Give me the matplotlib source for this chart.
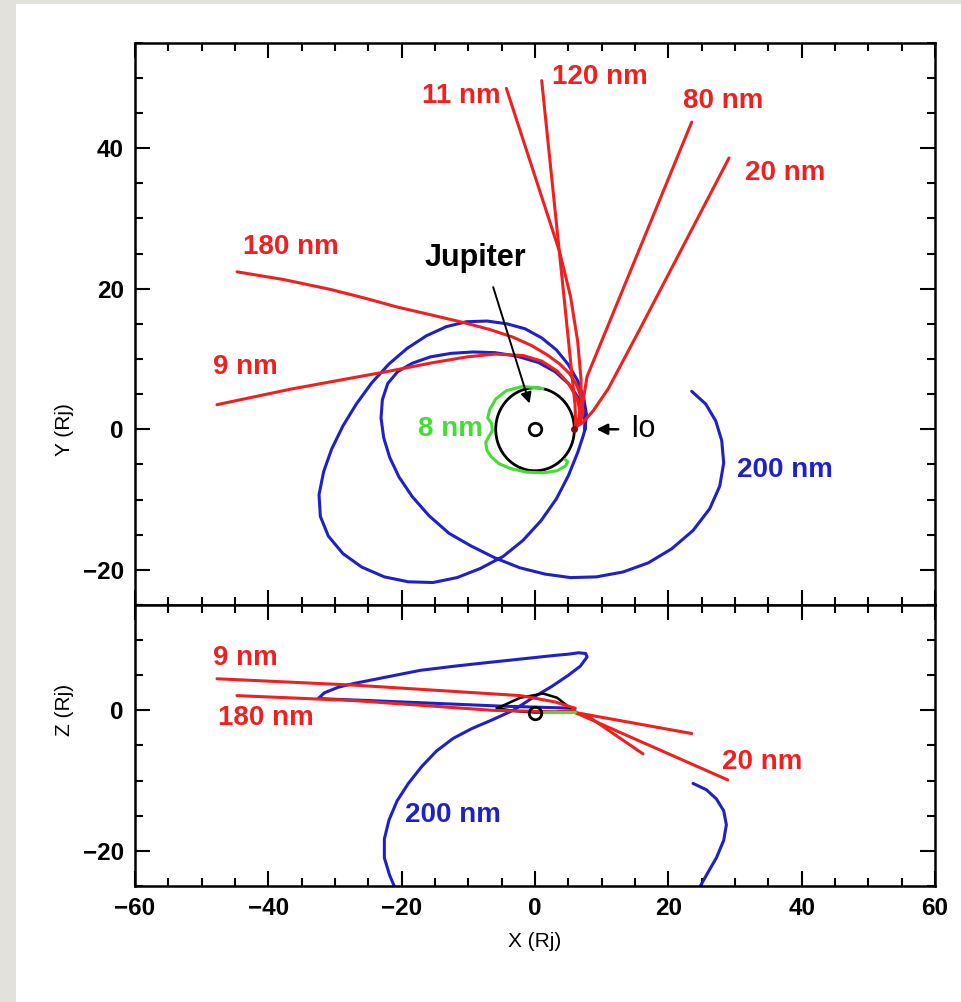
import numpy as np
import matplotlib
matplotlib.use('Agg')
import matplotlib.pyplot as plt
from matplotlib.patches import Circle, Rectangle
from matplotlib.ticker import MultipleLocator

plt.rcParams['font.family'] = ['Liberation Sans', 'DejaVu Sans']

RED = '#ee2020'
BLUE = '#2020c8'
GREEN = '#44dd33'

# ---- X-Y plane (top panel), values in Rj ----
red_11nm_x = [-4.3, 3.7, 5.3, 6.4, 6.9, 6.9, 6.5, 6.1]
red_11nm_y = [48.5, 25.2, 19.0, 12.5, 7.1, 3.5, 1.3, 0.3]
red_120nm_x = [1.0, 4.5, 5.5, 6.0, 6.1]
red_120nm_y = [49.6, 17.4, 8.1, 3.5, 0.3]
red_80nm_x = [23.5, 7.8, 7.2, 6.8, 6.1]
red_80nm_y = [43.7, 7.5, 4.0, 1.8, 0.3]
red_20nm_x = [29.1, 15.7, 11.0, 8.7, 7.2, 6.1]
red_20nm_y = [38.6, 14.2, 5.8, 2.6, 1.0, 0.3]
red_180nm_x = [-44.7, -37.7, -30.7, -25.7, -20.7, -15.7, -10.8, -6.8, -3.3, -0.5, 1.8,
               3.7, 5.2, 6.3, 7.0, 7.2, 6.8, 6.1]
red_180nm_y = [22.4, 21.3, 19.9, 18.7, 17.4, 16.3, 15.2, 14.2, 13.1, 11.9, 10.6,
               9.3, 7.9, 6.2, 4.3, 2.4, 1.0, 0.3]
red_9nm_x = [-47.7, -42.2, -36.7, -29.2, -21.7, -15.2, -10.2, -6.0, -1.8, 1.0, 3.3,
             5.1, 6.3, 6.8, 6.5, 6.1]
red_9nm_y = [3.5, 4.6, 5.7, 7.0, 8.3, 9.5, 10.3, 10.7, 10.5, 9.7, 8.3,
             6.4, 4.4, 2.3, 0.9, 0.3]

# outer loop then inner loop of the 200 nm grain
blue_200nm_x = [7.5, 7.7, 7.3, 6.4, 5.0, 3.2, 1.0, -1.5, -4.2, -7.2, -10.3, -13.3, -16.3,
                -19.2, -21.9, -24.5, -26.8, -28.8, -30.5, -31.7, -32.4, -32.2, -31.0,
                -28.8, -26.0, -22.6, -19.0, -15.3, -11.7, -8.2, -4.8, -1.8, 0.9, 3.2,
                5.0, 6.4, 7.2, 7.5,
                7.4, 6.5, 5.0, 3.0, 0.5, -2.7, -6.0, -9.3, -12.6, -15.7, -18.4, -20.6,
                -22.1, -22.9, -23.1, -22.7, -21.8, -20.4, -18.4, -15.9, -12.9, -9.6,
                -6.0, -2.3, 1.5, 5.3, 9.2, 13.2, 17.0, 20.5, 23.7, 26.2, 27.7, 28.3,
                28.0, 27.1, 25.6, 23.5]
blue_200nm_y = [0.0, 2.2, 4.5, 6.9, 9.2, 11.3, 13.0, 14.3, 15.0, 15.4, 15.3, 14.6, 13.3,
                11.5, 9.3, 6.6, 3.6, 0.5, -2.8, -6.0, -9.3, -12.4, -15.2,
                -17.7, -19.6, -21.0, -21.7, -21.8, -21.1, -19.8, -18.1, -15.8, -13.0, -9.9,
                -6.6, -3.3, -1.0, 0.0,
                2.3, 4.5, 6.5, 8.2, 9.5, 10.4, 10.9, 11.0, 10.8, 10.3, 9.4, 8.2,
                6.5, 4.2, 1.6, -1.2, -4.0, -6.8, -9.6, -12.3, -14.8, -16.6,
                -18.3, -19.7, -20.6, -21.1, -21.0, -20.3, -19.0, -17.0, -14.4, -11.3, -8.1, -4.8,
                -1.6, 1.2, 3.6, 5.4]

green_8nm_x = [1.2, -1.8, -4.3, -5.9, -6.8, -7.1, -6.5, -6.4, -6.9, -7.4, -7.2, -6.6,
               -5.4, -3.6, -1.3, 1.2, 3.3, 4.6, 4.9, 4.5]
green_8nm_y = [5.8, 6.1, 5.5, 4.3, 2.8, 1.6, 0.8, -0.2, -1.0, -1.9, -3.0, -3.9,
               -4.9, -5.6, -6.1, -6.2, -5.9, -5.2, -4.6, -4.3]

io_orbit_radius = 5.9
io_position = (5.9, 0.0)

# ---- X-Z plane (bottom panel) ----
red_xz_9nm_x = [-47.7, -27.3, -2.2, 3.0, 6.0]
red_xz_9nm_z = [4.5, 3.6, 2.1, 1.2, 0.3]
red_xz_180nm_x = [-44.7, -27.3, -6.3, 3.0, 6.0]
red_xz_180nm_z = [2.1, 1.4, 0.0, -0.2, 0.0]
red_xz_80nm_x = [6.0, 23.5]
red_xz_80nm_z = [-0.3, -3.3]
red_xz_11nm_x = [6.0, 8.2, 16.2]
red_xz_11nm_z = [-0.3, -1.0, -6.2]
red_xz_20nm_x = [6.0, 11.7, 28.9]
red_xz_20nm_z = [-0.3, -2.7, -9.9]

blue_xz_a_x = [6.0, -5.0, -15.0, -25.0, -30.5, -32.5, -31.6, -29.5, -27.3, -22.0, -17.2,
               -12.0, -7.2, -2.2, 2.7, 5.0, 6.5, 7.6, 7.8, 6.8, 5.0, 2.5, 0.0, -3.3,
               -6.3, -9.5, -12.3, -14.8, -17.0, -19.0, -20.7, -21.9, -22.6, -22.6,
               -21.8, -20.9]
blue_xz_a_z = [0.3, 0.6, 1.0, 1.4, 1.6, 1.7, 2.5, 3.3, 3.8, 4.8, 5.7,
               6.3, 6.8, 7.3, 7.8, 8.0, 8.2, 8.1, 7.6, 6.3, 5.0, 3.4, 2.0, 0.0,
               -1.3, -2.6, -4.0, -5.8, -8.0, -10.4, -12.9, -15.6, -18.3, -21.0,
               -23.5, -25.5]
blue_xz_b_x = [24.5, 25.8, 27.2, 28.3, 28.7, 28.3, 27.2, 25.7, 23.7]
blue_xz_b_z = [-25.5, -23.3, -21.0, -18.5, -16.3, -14.3, -12.6, -11.3, -10.4]

green_xz_x = [1.2, 6.0]
green_xz_z = [-0.3, -0.3]
io_orbit_xz_x = [-5.7, -2.2, 1.2, 3.3, 5.3, 5.8, 3.0, 0.0, -3.0, -5.7]
io_orbit_xz_z = [0.3, 1.8, 2.4, 1.8, 0.3, -0.1, -0.3, -0.3, -0.1, 0.3]

fig = plt.figure(figsize=(9.61, 10.02), dpi=100)
fig.patch.set_facecolor('#e3e1dc')
fig.patches.append(Rectangle((16 / 961, 0), 945 / 961, 998 / 1002, transform=fig.transFigure,
                             facecolor='white', edgecolor='none', zorder=-10))

ax1 = fig.add_axes([0.1405, 0.3962, 0.8325, 0.5612])
ax2 = fig.add_axes([0.1405, 0.1158, 0.8325, 0.2804])

lw = 2.2
style = dict(lw=lw, solid_joinstyle='round', solid_capstyle='round')
# top panel
ax1.plot(blue_200nm_x, blue_200nm_y, color=BLUE, **style)
ax1.add_patch(Circle((0, 0), io_orbit_radius, fill=False, ec='k', lw=2))
ax1.plot(green_8nm_x, green_8nm_y, color=GREEN, **style)
for xs, ys in [(red_11nm_x, red_11nm_y), (red_120nm_x, red_120nm_y), (red_80nm_x, red_80nm_y),
               (red_20nm_x, red_20nm_y), (red_180nm_x, red_180nm_y), (red_9nm_x, red_9nm_y)]:
    ax1.plot(xs, ys, color=RED, **style)
ax1.plot(0, 0, 'o', mfc='none', mec='k', ms=9, mew=2)
ax1.plot(*io_position, 'o', color='#7a1010', ms=4)

ax1.annotate('', xy=(-0.7, 3.3), xytext=(-6.4, 20.6),
             arrowprops=dict(arrowstyle='-|>', color='k', lw=1.4, mutation_scale=16))
ax1.annotate('', xy=(8.8, 0), xytext=(12.9, 0),
             arrowprops=dict(arrowstyle='-|>', color='k', lw=1.8, mutation_scale=16))

lab = dict(fontsize=20, fontweight='bold')
ax1.text(-9.0, 24.4, 'Jupiter', color='k', ha='center', va='center', fontsize=22, fontweight='bold')
ax1.text(14.2, 0.1, 'Io', color='k', ha='left', va='center', fontsize=22)
ax1.text(-5.2, 47.4, '11 nm', color=RED, ha='right', va='center', **lab)
ax1.text(2.5, 50.1, '120 nm', color=RED, ha='left', va='center', **lab)
ax1.text(22.2, 46.7, '80 nm', color=RED, ha='left', va='center', **lab)
ax1.text(31.5, 36.5, '20 nm', color=RED, ha='left', va='center', **lab)
ax1.text(-43.8, 26.0, '180 nm', color=RED, ha='left', va='center', **lab)
ax1.text(-48.3, 8.9, '9 nm', color=RED, ha='left', va='center', **lab)
ax1.text(-12.7, 0.0, '8 nm', color=GREEN, ha='center', va='center', **lab)
ax1.text(30.3, -5.8, '200 nm', color=BLUE, ha='left', va='center', **lab)

# bottom panel
ax2.plot(blue_xz_a_x, blue_xz_a_z, color=BLUE, **style)
ax2.plot(blue_xz_b_x, blue_xz_b_z, color=BLUE, **style)
ax2.plot(io_orbit_xz_x, io_orbit_xz_z, color='k', lw=1.8)
for xs, zs in [(red_xz_9nm_x, red_xz_9nm_z), (red_xz_180nm_x, red_xz_180nm_z),
               (red_xz_80nm_x, red_xz_80nm_z), (red_xz_11nm_x, red_xz_11nm_z),
               (red_xz_20nm_x, red_xz_20nm_z)]:
    ax2.plot(xs, zs, color=RED, **style)
ax2.plot(green_xz_x, green_xz_z, color=GREEN, **style)
ax2.plot(0, -0.4, 'o', mfc='none', mec='k', ms=9, mew=2)

ax2.text(-48.3, 7.5, '9 nm', color=RED, ha='left', va='center', **lab)
ax2.text(-47.5, -1.1, '180 nm', color=RED, ha='left', va='center', **lab)
ax2.text(28.0, -7.4, '20 nm', color=RED, ha='left', va='center', **lab)
ax2.text(-19.5, -14.9, '200 nm', color=BLUE, ha='left', va='center', **lab)

ax1.set_ylim(-25, 55)
ax2.set_ylim(-25, 15)
for ax in (ax1, ax2):
    ax.set_xlim(-60, 60)
    ax.xaxis.set_major_locator(MultipleLocator(20))
    ax.xaxis.set_minor_locator(MultipleLocator(5))
    ax.yaxis.set_major_locator(MultipleLocator(20))
    ax.yaxis.set_minor_locator(MultipleLocator(5))
    ax.tick_params(which='both', direction='in', top=True, right=True, width=1.5, labelsize=17.5)
    ax.tick_params(which='major', length=11, pad=8)
    ax.tick_params(which='minor', length=6)
    for s in ax.spines.values():
        s.set_linewidth(1.8)
    for t in ax.get_xticklabels() + ax.get_yticklabels():
        t.set_fontweight('bold')
    ax.set_facecolor('white')
ax1.tick_params(labelbottom=False)

fig.text(0.0676, 0.571, 'Y (Rj)', rotation=90, ha='center', va='center', fontsize=15)
fig.text(0.0676, 0.2914, 'Z (Rj)', rotation=90, ha='center', va='center', fontsize=15)
fig.text(0.5567, 0.0600, 'X (Rj)', ha='center', va='center', fontsize=15)

fig.savefig('out.png', dpi=100, facecolor=fig.get_facecolor())
